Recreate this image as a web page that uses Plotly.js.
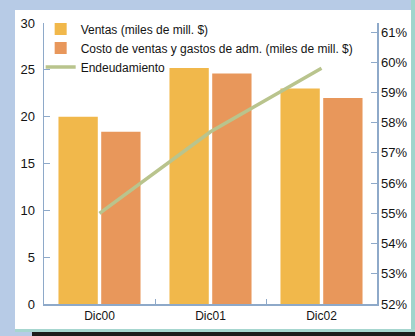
<!DOCTYPE html>
<html>
<head>
<meta charset="utf-8">
<script src="https://cdn.plot.ly/plotly-3.0.1.min.js"></script>
<style>
  html, body { margin: 0; padding: 0; }
  #frame { position: relative; width: 415px; height: 336px; background: #b7cbe6; overflow: hidden; }
  #rightStrip { position: absolute; left: 411px; top: 0; width: 4px; height: 336px; background: #9fd5cc; }
  #panel { position: absolute; left: 15px; top: 10px; width: 396px; height: 319px; background: #ffffff; }
  #bottomStrip { position: absolute; left: 15px; top: 329px; width: 400px; height: 3px; background: #a6d6cf; }
  #bottomBar { position: absolute; left: 32px; top: 332px; width: 383px; height: 4px; background: #1c1c1c; }
  #chart { position: absolute; left: 0; top: 0; width: 415px; height: 336px; }
</style>
</head>
<body>
<div id="frame">
  <div id="rightStrip"></div>
  <div id="panel"></div>
  <div id="bottomStrip"></div>
  <div id="bottomBar"></div>
  <div id="chart"></div>
</div>
<script>
// Periods
const periods = ['Dic00', 'Dic01', 'Dic02'];
// Sales, billions of $ (miles de millones)
const ventas = [20.0, 25.2, 23.0];
// Cost of sales and administrative expenses, billions of $
const costos = [18.4, 24.6, 22.0];
// Debt ratio, percent
const endeudamiento = [55.0, 57.7, 59.8];

const axisColor = '#8ea9c9';
const textColor = '#141414';
const fontFamily = '"Liberation Sans", Arial, sans-serif';

const traces = [
  {
    type: 'bar', name: 'Ventas (miles de mill. $)',
    x: periods, y: ventas,
    marker: { color: '#f1b84b' }
  },
  {
    type: 'bar', name: 'Costo de ventas y gastos de adm. (miles de mill. $)',
    x: periods, y: costos,
    marker: { color: '#e8975b' }
  },
  {
    type: 'scatter', mode: 'lines', name: 'Endeudamiento',
    x: periods, y: endeudamiento, yaxis: 'y2',
    line: { color: '#b9c48d', width: 3.5 }
  }
];

const layout = {
  width: 415, height: 336,
  margin: { l: 44, r: 38, t: 23, b: 32, pad: 0 },
  paper_bgcolor: 'rgba(0,0,0,0)',
  plot_bgcolor: 'rgba(0,0,0,0)',
  font: { family: fontFamily, size: 12, color: textColor },
  barmode: 'group',
  bargap: 0.23,
  bargroupgap: 0.08,
  showlegend: true,
  legend: {
    x: -0.01, y: 1.03, xanchor: 'left', yanchor: 'top',
    bgcolor: 'rgba(0,0,0,0)',
    font: { family: fontFamily, size: 12, color: textColor },
    tracegroupgap: 0
  },
  xaxis: {
    type: 'category',
    showline: true, linecolor: axisColor, linewidth: 1.5,
    ticks: 'inside', tickson: 'boundaries', ticklen: 5, tickcolor: axisColor,
    showgrid: false, zeroline: false,
    tickfont: { family: fontFamily, size: 12, color: textColor }
  },
  yaxis: {
    range: [0, 30], dtick: 5,
    showline: true, linecolor: axisColor, linewidth: 1.5,
    ticks: 'inside', ticklen: 6, tickcolor: axisColor,
    ticklabelstandoff: 5,
    showgrid: false, zeroline: false,
    tickfont: { family: fontFamily, size: 13, color: textColor }
  },
  yaxis2: {
    overlaying: 'y', side: 'right',
    range: [52, 61.3], dtick: 1, ticksuffix: '%',
    showline: true, linecolor: axisColor, linewidth: 1.5,
    ticks: 'inside', ticklen: 6, tickcolor: axisColor,
    showgrid: false, zeroline: false,
    tickfont: { family: fontFamily, size: 13, color: textColor }
  }
};

Plotly.newPlot('chart', traces, layout, { displayModeBar: false, staticPlot: true });
</script>
</body>
</html>
